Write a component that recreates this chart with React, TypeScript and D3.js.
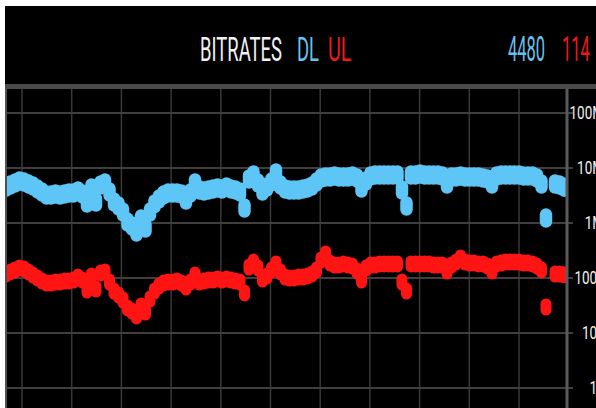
import React from 'react';
import * as d3 from 'd3';

// Downlink bitrate samples (kbps), left to right; null = no sample
const DL_KBPS: (number | null)[] = [
  4510, 4910, 5340, 5800, 5570, 5120, 4710, 4150, 3660, 3230,
  3230, 3370, 3230, 3370, 3510, 3510, 3820, 3370, 2310, 4330,
  2410, 4910, 5340, 3660, 2410, 2040, 1580, 1040, 882, 686,
  1180, 811, 1580, 2220, 2730, 3230, 3510, 3510, 3510, 3370,
  2620, 3510, 5340, 3980, 3820, 3980, 4150, 4330, 4150, 4510,
  4150, 3980, 3660, 1870, 6310, 7460, 5340, 3820, 4510, 5570,
  8110, 4910, 4150, 3980, 3980, 3980, 4150, 4330, 4710, 5570,
  6580, 6860, 6860, 7150, 6860, 6860, 6860, 7150, 6580, 4330,
  5800, 7150, 7460, 7460, 7460, 7460, 7460, 7460, 3980, 2040,
  7460, 7460, 7780, 7460, 7460, 7460, 7460, 7150, 5120, 6860,
  6860, 7150, 6860, 6860, 6860, 6860, 6580, 6310, 5120, 7150,
  7460, 7460, 7460, 7460, 7460, 7150, 7150, 7150, 6580, 5120,
  1230, null, 5120, 4910, 4480,
];

// Uplink bitrate samples (kbps)
const UL_KBPS: (number | null)[] = [
  118, 129, 140, 152, 146, 129, 113, 100, 88.2, 81.1,
  81.1, 84.6, 84.6, 88.2, 88.2, 92.0, 104, 92.0, 60.5, 109,
  63.1, 123, 129, 84.6, 58.0, 49.1, 39.8, 28.5, 25.1, 20.4,
  31.0, 24.1, 41.5, 58.0, 71.5, 81.1, 84.6, 84.6, 88.2, 81.1,
  68.6, 84.6, 113, 84.6, 88.2, 92.0, 92.0, 95.9, 92.0, 95.9,
  92.0, 88.2, 84.6, 53.4, 158, 195, 152, 95.9, 109, 140,
  180, 129, 104, 100, 100, 104, 104, 109, 118, 140,
  212, 273, 187, 172, 172, 180, 172, 165, 134, 92.0,
  152, 172, 172, 180, 180, 180, 180, 180, 84.6, 58.0,
  180, 180, 180, 180, 180, 172, 172, 172, 134, 172,
  195, 231, 195, 187, 187, 180, 180, 165, 134, 180,
  187, 195, 195, 195, 195, 187, 187, 180, 165, 140,
  29.7, null, 118, 118, 114,
];

const Y_TICKS = [1, 10, 100, 1000, 10000, 100000];
const Y_TICK_LABELS = ['1k', '10k', '100k', '1M', '10M', '100M'];
const TIME_GRID = [0, 1, 2, 3, 4, 5, 6, 7, 8, 9, 10];

const TITLE = 'BITRATES';
const DL_LABEL = 'DL';
const UL_LABEL = 'UL';
const DL_NOW = '4480';
const UL_NOW = '114';

const BLUE = '#5ec6f6';
const RED = '#ff1414';
const BLUE_TEXT = '#68c0ec';
const RED_TEXT = '#ee1a1a';
const FONT = 'Roboto, "DejaVu Sans", sans-serif';

function Squeezed(props: { x: number; y: number; sx: number; size: number; fill: string; anchor?: string; dy?: string; children: React.ReactNode }) {
  const { x, y, sx, size, fill, anchor, dy, children } = props;
  return (
    <g transform={`translate(${x}, ${y}) scale(${sx}, 1)`}>
      <text x={0} y={0} dy={dy} textAnchor={anchor || 'start'} fontFamily={FONT} fontSize={size} fill={fill}>
        {children}
      </text>
    </g>
  );
}

export default function App() {
  const W = 596;
  const H = 408;
  const plotLeft = 7;
  const plotTop = 89;
  const axisX = 567;

  const x = d3.scaleLinear().domain([0, DL_KBPS.length - 1]).range([6, 564]);
  const y = d3.scaleLog().domain([1, 100000]).range([388, 113]);
  const gx = d3.scaleLinear().domain([0, 10]).range([22, 519]);

  const dots = (data: (number | null)[], color: string, half: number, sw: number) =>
    data.map((v, i) =>
      v == null ? null : (
        <line
          key={i}
          x1={x(i)}
          x2={x(i)}
          y1={y(v) - half}
          y2={y(v) + half}
          stroke={color}
          strokeWidth={sw}
          strokeLinecap="round"
        />
      )
    );

  return (
    <svg
      width={W}
      height={H}
      style={{ position: 'absolute', left: 0, top: 0, display: 'block' }}
    >
      <defs>
        <clipPath id="plotClip">
          <rect x={plotLeft} y={plotTop} width={axisX - plotLeft - 1} height={H - plotTop} />
        </clipPath>
      </defs>
      <rect x={0} y={0} width={W} height={H} fill="#ffffff" />
      <rect x={5} y={6} width={W - 5} height={H - 6} fill="#000000" />

      {/* header */}
      <Squeezed x={200} y={61} sx={0.56} size={33} fill="#f2f2f2">{TITLE}</Squeezed>
      <Squeezed x={297} y={61} sx={0.56} size={33} fill={BLUE_TEXT}>{DL_LABEL}</Squeezed>
      <Squeezed x={328} y={61} sx={0.6} size={33} fill={RED_TEXT}>{UL_LABEL}</Squeezed>
      <Squeezed x={508} y={61} sx={0.47} size={35} fill={BLUE_TEXT}>{DL_NOW}</Squeezed>
      <Squeezed x={562} y={61} sx={0.47} size={35} fill={RED_TEXT}>{UL_NOW}</Squeezed>

      {/* separator band */}
      <rect x={5} y={84} width={W - 5} height={5} fill="#4a4a4a" />

      {/* grid */}
      {TIME_GRID.map((t) => (
        <line key={'v' + t} x1={gx(t)} x2={gx(t)} y1={plotTop} y2={H} stroke="#383838" strokeWidth={1.5} />
      ))}
      {Y_TICKS.map((t) => (
        <line key={'h' + t} x1={plotLeft} x2={axisX + 6} y1={y(t)} y2={y(t)} stroke="#3f3f3f" strokeWidth={2} />
      ))}
      <line x1={6} x2={6} y1={plotTop} y2={H} stroke="#505050" strokeWidth={2} />

      {/* series */}
      <g clipPath="url(#plotClip)">
        {dots(UL_KBPS, RED, 3, 11)}
        {dots(DL_KBPS, BLUE, 3.5, 12.5)}
      </g>

      {/* right axis */}
      <line x1={axisX} x2={axisX} y1={plotTop} y2={H} stroke="#5a5a5a" strokeWidth={3} />
      {Y_TICKS.map((t, i) => (
        <Squeezed key={'l' + t} x={604} y={y(t)} sx={0.75} size={18} fill="#f0f0f0" anchor="end" dy="0.36em">
          {Y_TICK_LABELS[i]}
        </Squeezed>
      ))}
    </svg>
  );
}
